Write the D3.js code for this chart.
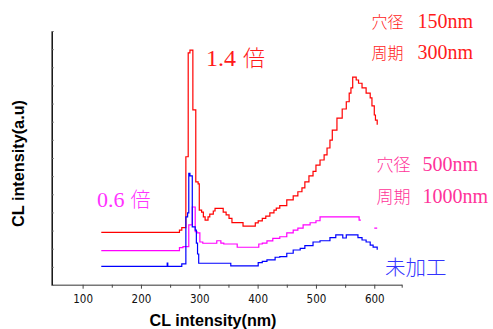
<!DOCTYPE html>
<html>
<head>
<meta charset="utf-8">
<script src="https://cdn.jsdelivr.net/npm/d3@7"></script>
<style>
  body { margin: 0; background: #fff; }
  svg { display: block; }
</style>
</head>
<body>
<div id="chart"></div>
<script>
// wavelength (nm), intensity (a.u.)
const red = [[132,2.90],[266,3.03],[270,3.16],[277,7.07],[281,12.79],[284,12.95],[289,9.65],[294,5.68],[298,5.57],[300,4.13],[304,4.02],[307,3.76],[310,3.58],[315,3.75],[318,3.91],[324,4.08],[327,4.22],[341,4.02],[346,3.86],[351,3.67],[356,3.44],[375,3.25],[396,3.42],[401,3.53],[408,3.67],[414,3.80],[421,3.97],[428,4.13],[432,4.24],[438,4.37],[450,4.69],[461,4.91],[469,5.14],[476,5.35],[481,5.68],[488,6.01],[495,6.26],[500,6.61],[507,6.89],[514,7.17],[519,7.55],[524,7.99],[528,8.54],[536,9.20],[545,9.70],[552,10.10],[557,10.58],[560,10.86],[563,11.46],[569,11.30],[573,11.12],[579,10.86],[586,10.58],[593,10.31],[596,9.87],[600,9.37],[602,9.09],[605,8.87],[606,8.87]];
const magenta = [[132,1.90],[266,2.06],[272,2.11],[282,3.31],[288,4.30],[293,2.94],[296,2.87],[301,2.37],[306,2.30],[330,2.44],[337,2.31],[342,2.26],[365,2.08],[402,2.26],[408,2.31],[416,2.43],[426,2.57],[438,2.66],[450,2.87],[461,3.03],[469,3.14],[478,3.31],[490,3.43],[500,3.54],[507,3.76],[574,3.58],[577,3.58],[577,null],[600,3.14],[605,3.14]];
const blue = [[132,1.03],[245,1.21],[246,1.03],[270,1.16],[277,3.76],[280,3.97],[282,6.16],[284,6.01],[288,3.20],[293,3.03],[295,2.31],[297,1.71],[299,1.20],[354,1.05],[401,1.23],[408,1.30],[416,1.38],[430,1.53],[438,1.56],[450,1.75],[461,1.93],[473,2.02],[481,2.17],[495,2.37],[507,2.44],[524,2.61],[534,2.76],[546,2.59],[552,2.76],[572,2.61],[579,2.48],[586,2.37],[593,2.20],[598,2.09],[605,1.98],[606,1.98]];

const xMajor = [100, 200, 300, 400, 500, 600];
const xMinor = [150, 250, 350, 450, 550, 647];
const yTicks = d3.range(0, 15);

const width = 493, height = 329;
const svg = d3.select('#chart').append('svg')
  .attr('width', width).attr('height', height);

const x = d3.scaleLinear().domain([47, 647]).range([51.7, 401.7]);
const y = d3.scaleLinear().domain([0, 14]).range([285, 31]);

// axes
const gx = svg.append('g').attr('transform', 'translate(0,284.7)');
gx.call(d3.axisBottom(x).tickValues(xMajor).tickSize(4).tickSizeOuter(0).tickPadding(6));
gx.select('.domain').attr('stroke', '#777').attr('stroke-width', 1.6);
gx.selectAll('.tick line').attr('stroke', '#444');
gx.selectAll('.tick text')
  .style('font-family', '"Liberation Sans Narrow", "DejaVu Sans Condensed", "Liberation Sans", sans-serif')
  .style('font-size', '11.5px')
  .attr('fill', '#111');

const gm = svg.append('g').attr('transform', 'translate(0,284.7)');
gm.call(d3.axisBottom(x).tickValues(xMinor).tickSize(3).tickSizeOuter(0).tickFormat(''));
gm.select('.domain').remove();
gm.selectAll('.tick line').attr('stroke', '#444');

const gy = svg.append('g').attr('transform', 'translate(51.7,0)');
gy.call(d3.axisRight(y).tickValues(yTicks).tickSize(2).tickSizeOuter(0).tickFormat(''));
gy.select('.domain').attr('stroke', '#000').attr('stroke-width', 1.4);
gy.selectAll('.tick line').attr('stroke', '#666');

// series
const line = d3.line()
  .defined(d => d[1] !== null)
  .x(d => x(d[0]))
  .y(d => y(d[1]))
  .curve(d3.curveStepAfter);

[[red, '#ff0000'], [magenta, '#ff00ff'], [blue, '#0000ff']].forEach(([data, color]) => {
  svg.append('path')
    .datum(data)
    .attr('fill', 'none')
    .attr('stroke', color)
    .attr('stroke-width', 1.2)
    .attr('d', line);
});

// axis titles
svg.append('text')
  .attr('x', 213).attr('y', 325.5)
  .attr('text-anchor', 'middle')
  .attr('textLength', 127).attr('lengthAdjust', 'spacingAndGlyphs')
  .style('font-family', '"Liberation Sans", Arial, sans-serif')
  .style('font-weight', 'bold').style('font-size', '17px')
  .text('CL intensity(nm)');

svg.append('text')
  .attr('transform', 'translate(23.5,163.5) rotate(-90)')
  .attr('text-anchor', 'middle')
  .attr('textLength', 127).attr('lengthAdjust', 'spacingAndGlyphs')
  .style('font-family', '"Liberation Sans", Arial, sans-serif')
  .style('font-weight', 'bold').style('font-size', '17px')
  .text('CL intensity(a.u)');

// annotations
const serif = '"Liberation Serif", "DejaVu Serif", serif';
const cjk = '"Noto Sans CJK JP", "Noto Sans CJK SC", sans-serif';

function note(px, py, color, parts) {
  const t = svg.append('text').attr('x', px).attr('y', py).attr('fill', color);
  parts.forEach(p => {
    t.append('tspan')
      .attr('dx', p.dx || 0)
      .style('font-family', p.cjk ? cjk : serif)
      .style('font-size', p.size + 'px')
      .style('font-weight', p.cjk ? 300 : 'normal')
      .text(p.s);
  });
}

note(206, 66, '#ff1a1a', [{s: '1.4', size: 24}, {s: '倍', size: 22, cjk: true, dx: 7}]);
note(97, 207, '#ff33ff', [{s: '0.6', size: 22}, {s: '倍', size: 20, cjk: true, dx: 6}]);
note(371.5, 27.5, '#ff1a1a', [{s: '穴径', size: 16, cjk: true}, {s: '150nm', size: 20, dx: 14}]);
note(371.5, 58.5, '#ff1a1a', [{s: '周期', size: 16, cjk: true}, {s: '300nm', size: 20, dx: 14}]);
note(376.5, 171, '#ff3399', [{s: '穴径', size: 17, cjk: true}, {s: '500nm', size: 20, dx: 12}]);
note(376.5, 203, '#ff3399', [{s: '周期', size: 17, cjk: true}, {s: '1000nm', size: 20, dx: 12}]);
note(385, 275, '#3333ff', [{s: '未加工', size: 20.5, cjk: true}]);
</script>
</body>
</html>
